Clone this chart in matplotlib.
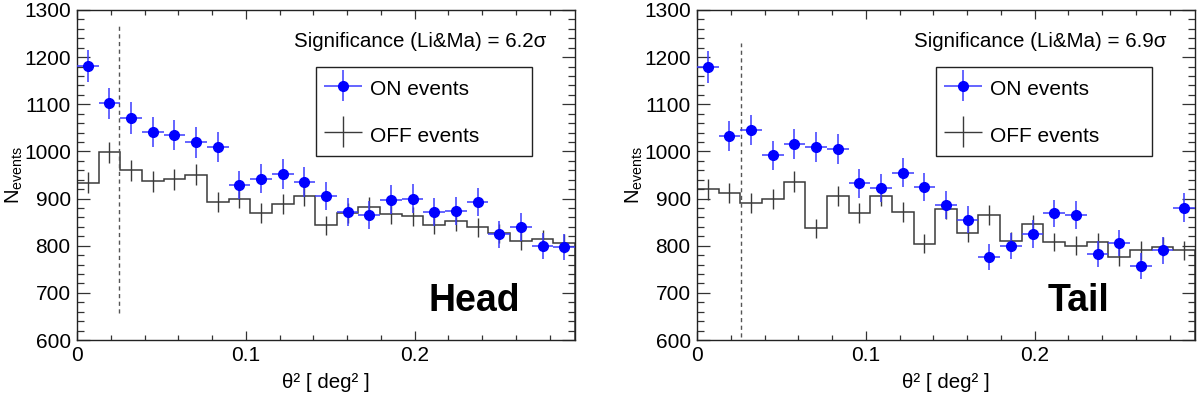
import numpy as np
import matplotlib
matplotlib.use("Agg")
import matplotlib.pyplot as plt
from matplotlib.ticker import MultipleLocator
from matplotlib.legend_handler import HandlerErrorbar

plt.rcParams['font.family'] = ['Liberation Sans', 'DejaVu Sans']
plt.rcParams['mathtext.fontset'] = 'custom'
plt.rcParams['mathtext.rm'] = 'Liberation Sans'
plt.rcParams['mathtext.it'] = 'Liberation Sans:italic'

# ---- data ----
n_bins = 23
theta2_max = 0.295

head_on = [1181, 1102, 1071, 1041, 1034, 1019, 1010, 929, 942, 952, 935, 906,
           872, 865, 898, 900, 871, 874, 892, 824, 840, 799, 797]
head_on_err = [34, 33, 33, 32, 32, 32, 32, 30, 31, 31, 31, 30,
               30, 29, 30, 30, 30, 30, 30, 29, 29, 28, 28]
head_off = [934, 998, 960, 937, 941, 951, 893, 900, 870, 888, 905, 843,
            869, 883, 867, 862, 844, 853, 839, 826, 811, 814, 805]
head_off_err = [22, 23, 22, 22, 22, 22, 21, 21, 21, 21, 21, 21,
                21, 21, 21, 21, 20, 21, 20, 20, 20, 20, 20]

tail_on = [1180, 1033, 1045, 992, 1016, 1010, 1006, 932, 922, 955, 924, 886,
           855, 776, 800, 825, 869, 865, 783, 806, 757, 790, 881]
tail_on_err = [34, 32, 32, 31, 32, 32, 32, 30, 30, 31, 30, 30,
               29, 28, 28, 29, 29, 29, 28, 28, 28, 28, 30]
tail_off = [920, 912, 890, 899, 936, 837, 905, 869, 906, 872, 804, 877,
            827, 866, 810, 846, 808, 800, 807, 777, 790, 798, 790]
tail_off_err = [22, 22, 21, 21, 22, 20, 21, 21, 21, 21, 20, 21,
                20, 21, 20, 20, 20, 20, 20, 19, 20, 20, 20]

panels = [
    dict(label="Head", on=head_on, on_err=head_on_err, off=head_off, off_err=head_off_err,
         sig="Significance (Li&Ma) = 6.2σ", cut=0.025, cut_y=(657, 1266)),
    dict(label="Tail", on=tail_on, on_err=tail_on_err, off=tail_off, off_err=tail_off_err,
         sig="Significance (Li&Ma) = 6.9σ", cut=0.026, cut_y=(607, 1230)),
]

edges = np.linspace(0, theta2_max, n_bins + 1)
centers = 0.5 * (edges[:-1] + edges[1:])
half_w = 0.5 * (edges[1] - edges[0])

fig = plt.figure(figsize=(12, 3.98), dpi=100)
W, H = 1200, 398
positions = [77, 697]

on_col = '#0000ff'
on_err_col = '#3a3aff'
off_col = '#3a3a3a'

for px, p in zip(positions, panels):
    ax = fig.add_axes([px / W, (H - 340) / H, 498 / W, 330 / H])
    # OFF histogram (step) + error bars
    ax.stairs(p['off'], edges, color=off_col, lw=1.1)
    ax.errorbar(centers, p['off'], yerr=p['off_err'], fmt='none',
                ecolor=off_col, elinewidth=1.0, capsize=0)
    # ON points
    ax.errorbar(centers, p['on'], xerr=half_w, yerr=p['on_err'], fmt='o',
                color=on_col, ms=7, mec=on_col, mfc=on_col,
                ecolor=on_err_col, elinewidth=1.1, capsize=0, zorder=5)
    # cut line
    ax.plot([p['cut'], p['cut']], list(p['cut_y']), ls=(0, (3, 2.5)),
            color='#555555', lw=1.0)

    ax.set_xlim(0, theta2_max)
    ax.set_ylim(600, 1300)
    ax.xaxis.set_major_locator(MultipleLocator(0.1))
    ax.xaxis.set_minor_locator(MultipleLocator(0.02))
    ax.yaxis.set_major_locator(MultipleLocator(100))
    ax.yaxis.set_minor_locator(MultipleLocator(20))
    ax.xaxis.set_major_formatter(plt.FuncFormatter(lambda v, _: '0' if abs(v) < 1e-9 else f'{v:g}'))
    ax.tick_params(which='both', direction='in', top=True, right=True,
                   labelsize=15, width=0.9, color='#333333')
    ax.tick_params(which='major', axis='y', length=9.5, pad=4.5)
    ax.tick_params(which='minor', axis='y', length=5)
    ax.tick_params(which='major', axis='x', length=6.5, pad=4)
    ax.tick_params(which='minor', axis='x', length=3.6)
    for s in ax.spines.values():
        s.set_linewidth(1.0)
        s.set_color('#222222')

    ax.set_xlabel('θ² [ deg² ]', fontsize=14.8, labelpad=6)
    ax.set_ylabel(r'N$_{\rm events}$', fontsize=14.5)
    ax.yaxis.set_label_coords(-52 / 498, 0.5)

    ax.text(0.943, 0.905, p['sig'], transform=ax.transAxes, ha='right',
            va='center', fontsize=14.8)
    ax.text(0.705, 0.088, p['label'], transform=ax.transAxes, ha='left',
            va='baseline', fontsize=27, fontweight='bold')

    h_on = ax.errorbar([], [], xerr=[], yerr=[], fmt='o', color=on_col, ms=7,
                       ecolor=on_err_col, elinewidth=1.1)
    h_off = ax.errorbar([], [], xerr=[], yerr=[], fmt='none', ecolor=off_col,
                        elinewidth=1.0)
    hmap = {h_on: HandlerErrorbar(xerr_size=0.9, yerr_size=0.75),
            h_off: HandlerErrorbar(xerr_size=0.9, yerr_size=0.75)}
    leg = ax.legend([h_on, h_off], ['ON events', 'OFF events'],
                    loc='upper left', bbox_to_anchor=(0.48, 0.826, 0.434, 0.0),
                    mode='expand', borderaxespad=0, fontsize=15,
                    handlelength=1.8, handleheight=1.5, handletextpad=0.4,
                    borderpad=0.4, labelspacing=1.0, fancybox=False,
                    framealpha=1, edgecolor='#222222', handler_map=hmap)
    leg.get_frame().set_linewidth(1.0)

fig.savefig('out.png', dpi=100)
